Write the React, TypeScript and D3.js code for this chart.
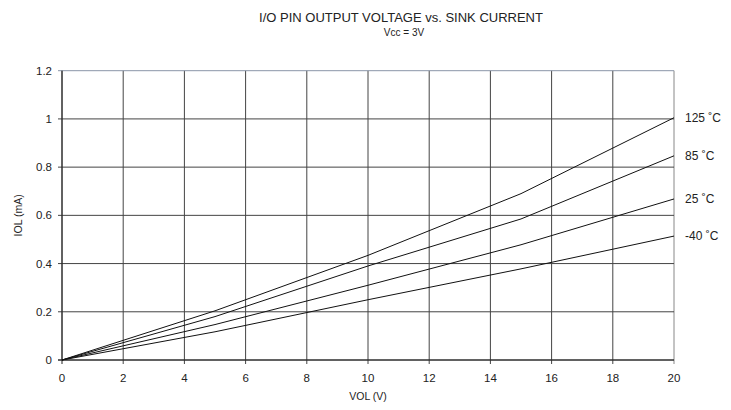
import React from "react";
import * as d3 from "d3";

const voltages = [0, 5, 10, 15, 20];
const seriesNames = ["125 ˚C", "85 ˚C", "25 ˚C", "-40 ˚C"];
const iol125 = [0, 0.204, 0.434, 0.69, 1.005];
const iol85 = [0, 0.18, 0.39, 0.585, 0.847];
const iol25 = [0, 0.147, 0.31, 0.478, 0.668];
const iolM40 = [0, 0.117, 0.25, 0.378, 0.514];
const xTicks = [0, 2, 4, 6, 8, 10, 12, 14, 16, 18, 20];
const yTicks = [0, 0.2, 0.4, 0.6, 0.8, 1, 1.2];

const W = 731;
const H = 410;
const left = 62;
const right = 674;
const top = 70.7;
const bottom = 360;
const font = "'Liberation Sans', Arial, Helvetica, sans-serif";

export default function App() {
  const x = d3.scaleLinear().domain([0, 20]).range([left, right]);
  const y = d3.scaleLinear().domain([0, 1.2]).range([bottom, top]);
  const line = d3
    .line<number>()
    .x((_, i) => x(voltages[i]))
    .y((d) => y(d));
  const series = [iol125, iol85, iol25, iolM40];

  return (
    <svg
      width={W}
      height={H}
      style={{ position: "absolute", left: 0, top: 0, background: "#fff" }}
      fontFamily={font}
    >
      <text x={401} y={22} textAnchor="middle" fontSize={13} fill="#222">
        I/O PIN OUTPUT VOLTAGE vs. SINK CURRENT
      </text>
      <text x={404} y={36} textAnchor="middle" fontSize={10} fill="#222">
        Vcc = 3V
      </text>

      {/* grid */}
      {xTicks.map((t) => (
        <line
          key={"gx" + t}
          x1={x(t)}
          x2={x(t)}
          y1={top}
          y2={bottom + (t === 0 ? 0 : 4)}
          stroke={t === 20 ? "#888" : "#444"}
          strokeWidth={1}
        />
      ))}
      {yTicks.map((t) => (
        <line
          key={"gy" + t}
          x1={left - 4}
          x2={right}
          y1={y(t)}
          y2={y(t)}
          stroke={t === 1.2 ? "#8a96a8" : "#444"}
          strokeWidth={1}
        />
      ))}
      <line x1={left} x2={left} y1={top} y2={bottom + 4} stroke="#222" />
      <line x1={left - 4} x2={right} y1={bottom} y2={bottom} stroke="#222" />

      {/* tick labels */}
      {xTicks.map((t) => (
        <text
          key={"tx" + t}
          x={x(t)}
          y={bottom + 22}
          textAnchor="middle"
          fontSize={11.5}
          fill="#222"
        >
          {t}
        </text>
      ))}
      {yTicks.map((t) => (
        <text
          key={"ty" + t}
          x={left - 10}
          y={y(t) + 4}
          textAnchor="end"
          fontSize={11.5}
          fill="#222"
        >
          {t}
        </text>
      ))}

      <text x={x(10)} y={400} textAnchor="middle" fontSize={10.5} fill="#222">
        VOL (V)
      </text>
      <text
        transform={`translate(22, ${(top + bottom) / 2}) rotate(-90)`}
        textAnchor="middle"
        fontSize={10.5}
        fill="#222"
      >
        IOL (mA)
      </text>

      {/* curves */}
      {series.map((s, i) => (
        <path key={"s" + i} d={line(s) || ""} fill="none" stroke="#111" strokeWidth={1} />
      ))}
      {series.map((s, i) => (
        <text
          key={"l" + i}
          x={right + 11}
          y={y(s[s.length - 1]) + 4}
          fontSize={12}
          fill="#222"
        >
          {seriesNames[i]}
        </text>
      ))}
    </svg>
  );
}
